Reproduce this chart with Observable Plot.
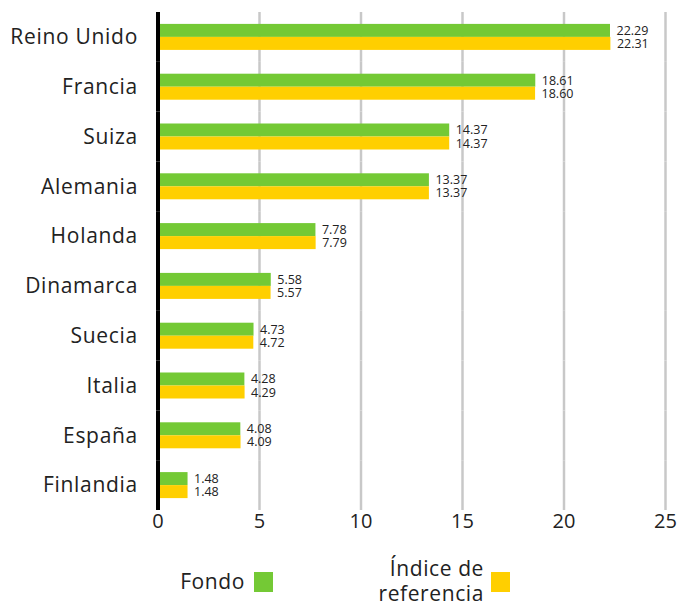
<!DOCTYPE html>
<html>
<head>
<meta charset="utf-8">
<script src="https://cdn.jsdelivr.net/npm/d3@7"></script>
<script src="https://cdn.jsdelivr.net/npm/@observablehq/plot@0.6"></script>
<style>
  body { margin: 0; background: #fff; font-family: "Open Sans", sans-serif; }
  #wrap { position: relative; width: 678px; }
  #legend { position: relative; height: 60px; font-size: 21px; letter-spacing: 0.6px; color: #222; }
  .lt { position: absolute; text-align: right; line-height: 25px; }
  .sw { position: absolute; width: 19px; height: 20px; }
  #chart g[aria-label="fy-axis tick label"] text { font-size: 21px; letter-spacing: 0.7px; }
</style>
</head>
<body>
<div id="wrap">
  <div id="chart"></div>
  <div id="legend"></div>
</div>
<script>
const countries = ["Reino Unido","Francia","Suiza","Alemania","Holanda","Dinamarca","Suecia","Italia","España","Finlandia"];
const series = ["Fondo", "Índice de referencia"];
const fondo = [22.29, 18.61, 14.37, 13.37, 7.78, 5.58, 4.73, 4.28, 4.08, 1.48];
const indice = [22.31, 18.60, 14.37, 13.37, 7.79, 5.57, 4.72, 4.29, 4.09, 1.48];
const xTicks = [0, 5, 10, 15, 20, 25];
const colors = ["#74c935", "#ffcf00"];

const rows = [];
countries.forEach((c, i) => {
  rows.push({country: c, series: series[0], value: fondo[i]});
  rows.push({country: c, series: series[1], value: indice[i]});
});

const chart = Plot.plot({
  width: 678,
  height: 545,
  marginTop: 12,
  marginBottom: 35,
  marginLeft: 157.5,
  marginRight: 13,
  style: {fontFamily: "'Open Sans', sans-serif", fontSize: "20px", color: "#222", background: "#fff"},
  x: {domain: [0, 25], ticks: xTicks, tickSize: 0, tickPadding: 3, label: null},
  y: {domain: series, axis: null, paddingInner: 0, paddingOuter: 0.915, round: false},
  fy: {domain: countries, padding: 0, round: false, label: null, tickSize: 0, tickPadding: 20},
  color: {domain: series, range: colors},
  marks: [
    Plot.ruleX(xTicks.slice(1), {stroke: "#c8c8c8", strokeWidth: 2.5}),
    Plot.barX(rows, {fy: "country", y: "series", x: "value", fill: "series"}),
    Plot.ruleX([0], {stroke: "#000", strokeWidth: 4}),
    Plot.text(rows, {fy: "country", y: "series", x: "value", text: d => d.value.toFixed(2),
      dx: 6, textAnchor: "start", fontSize: 12.5, fill: "#222"})
  ]
});
document.getElementById("chart").appendChild(chart);

// Legend
const legend = document.getElementById("legend");
const items = [
  {color: colors[0], right: 245, swLeft: 254, top: 24, html: series[0]},
  {color: colors[1], right: 484, swLeft: 491, top: 11, html: "Índice de<br>referencia"}
];
items.forEach(it => {
  const t = document.createElement("div");
  t.className = "lt";
  t.style.left = "0px";
  t.style.width = it.right + "px";
  t.style.top = it.top + "px";
  t.innerHTML = it.html;
  legend.appendChild(t);
  const s = document.createElement("div");
  s.className = "sw";
  s.style.left = it.swLeft + "px";
  s.style.top = "27px";
  s.style.background = it.color;
  legend.appendChild(s);
});
</script>
</body>
</html>
